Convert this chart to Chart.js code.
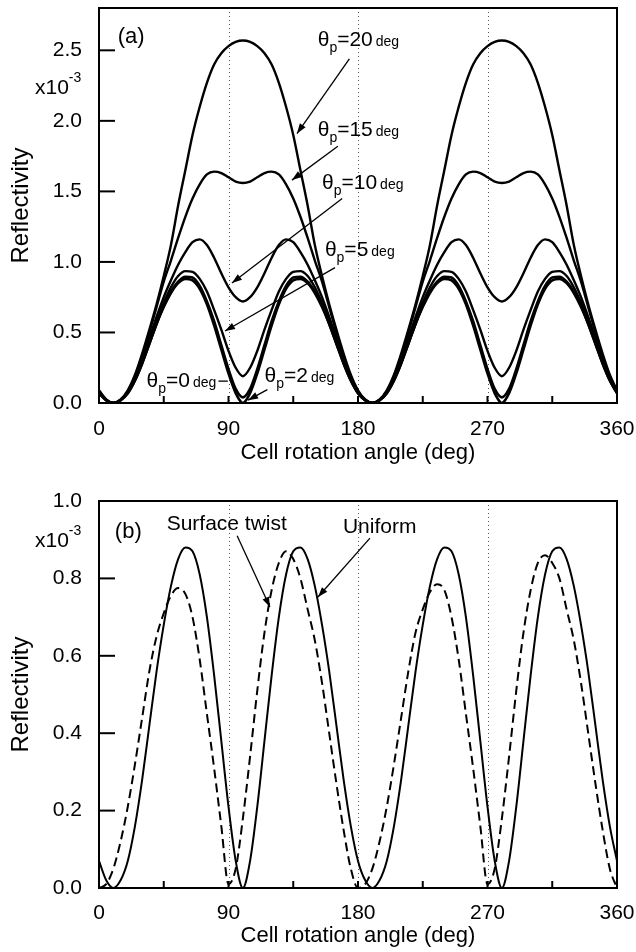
<!DOCTYPE html>
<html>
<head>
<meta charset="utf-8">
<title>Reflectivity vs cell rotation angle</title>
<script src="https://cdn.jsdelivr.net/npm/chart.js@4.4.1/dist/chart.umd.min.js"></script>
<style>
  body { margin: 0; background: #fff; }
  canvas { display: block; }
</style>
</head>
<body>
<canvas id="panelA" width="636" height="476"></canvas>
<canvas id="panelB" width="636" height="476"></canvas>
<script>
// Cell rotation angle (deg), sampled every 5 degrees
var angles = [0, 5, 10, 15, 20, 25, 30, 35, 40, 45, 50, 55, 60, 65, 70, 75, 80, 85, 90,
  95, 100, 105, 110, 115, 120, 125, 130, 135, 140, 145, 150, 155, 160, 165, 170, 175, 180,
  185, 190, 195, 200, 205, 210, 215, 220, 225, 230, 235, 240, 245, 250, 255, 260, 265, 270,
  275, 280, 285, 290, 295, 300, 305, 310, 315, 320, 325, 330, 335, 340, 345, 350, 355, 360];

// Panel (a): reflectivity (x10^-3) for each pretilt angle theta_p
var theta0 = [0.07, 0.02, 0, 0.02, 0.07, 0.16, 0.28, 0.42, 0.56, 0.68, 0.78, 0.85, 0.88, 0.87, 0.81, 0.70, 0.55, 0.38, 0.21, 0.07, 0, 0.07, 0.21, 0.38, 0.55, 0.70, 0.81, 0.87, 0.88, 0.85, 0.78, 0.68, 0.56, 0.42, 0.28, 0.16, 0.07,
  0.02, 0, 0.02, 0.07, 0.16, 0.28, 0.42, 0.56, 0.68, 0.78, 0.85, 0.88, 0.87, 0.81, 0.70, 0.55, 0.38, 0.21, 0.07, 0, 0.07, 0.21, 0.38, 0.55, 0.70, 0.81, 0.87, 0.88, 0.85, 0.78, 0.68, 0.56, 0.42, 0.28, 0.16, 0.07];
var theta2 = [0.07, 0.02, 0, 0.02, 0.07, 0.16, 0.28, 0.42, 0.56, 0.69, 0.79, 0.86, 0.895, 0.89, 0.83, 0.72, 0.58, 0.41, 0.24, 0.10, 0.04, 0.10, 0.24, 0.41, 0.58, 0.72, 0.83, 0.89, 0.895, 0.86, 0.79, 0.69, 0.56, 0.42, 0.28, 0.16, 0.07,
  0.02, 0, 0.02, 0.07, 0.16, 0.28, 0.42, 0.56, 0.69, 0.79, 0.86, 0.895, 0.89, 0.83, 0.72, 0.58, 0.41, 0.24, 0.10, 0.04, 0.10, 0.24, 0.41, 0.58, 0.72, 0.83, 0.89, 0.895, 0.86, 0.79, 0.69, 0.56, 0.42, 0.28, 0.16, 0.07];
var theta5 = [0.075, 0.02, 0, 0.02, 0.075, 0.17, 0.29, 0.44, 0.58, 0.71, 0.82, 0.90, 0.935, 0.93, 0.88, 0.79, 0.66, 0.52, 0.37, 0.25, 0.19, 0.25, 0.37, 0.52, 0.66, 0.79, 0.88, 0.93, 0.935, 0.90, 0.82, 0.71, 0.58, 0.44, 0.29, 0.17, 0.075,
  0.02, 0, 0.02, 0.075, 0.17, 0.29, 0.44, 0.58, 0.71, 0.82, 0.90, 0.935, 0.93, 0.88, 0.79, 0.66, 0.52, 0.37, 0.25, 0.19, 0.25, 0.37, 0.52, 0.66, 0.79, 0.88, 0.93, 0.935, 0.90, 0.82, 0.71, 0.58, 0.44, 0.29, 0.17, 0.075];
var theta10 = [0.08, 0.02, 0, 0.02, 0.08, 0.18, 0.31, 0.46, 0.61, 0.75, 0.87, 0.98, 1.07, 1.14, 1.16, 1.12, 1.03, 0.92, 0.82, 0.75, 0.72, 0.75, 0.82, 0.92, 1.03, 1.12, 1.16, 1.14, 1.07, 0.98, 0.87, 0.75, 0.61, 0.46, 0.31, 0.18, 0.08,
  0.02, 0, 0.02, 0.08, 0.18, 0.31, 0.46, 0.61, 0.75, 0.87, 0.98, 1.07, 1.14, 1.16, 1.12, 1.03, 0.92, 0.82, 0.75, 0.72, 0.75, 0.82, 0.92, 1.03, 1.12, 1.16, 1.14, 1.07, 0.98, 0.87, 0.75, 0.61, 0.46, 0.31, 0.18, 0.08];
var theta15 = [0.085, 0.02, 0, 0.02, 0.085, 0.19, 0.33, 0.50, 0.68, 0.86, 1.01, 1.17, 1.32, 1.45, 1.55, 1.62, 1.64, 1.63, 1.60, 1.57, 1.56, 1.57, 1.60, 1.63, 1.64, 1.62, 1.55, 1.45, 1.32, 1.17, 1.01, 0.86, 0.68, 0.50, 0.33, 0.19, 0.085,
  0.02, 0, 0.02, 0.085, 0.19, 0.33, 0.50, 0.68, 0.86, 1.01, 1.17, 1.32, 1.45, 1.55, 1.62, 1.64, 1.63, 1.60, 1.57, 1.56, 1.57, 1.60, 1.63, 1.64, 1.62, 1.55, 1.45, 1.32, 1.17, 1.01, 0.86, 0.68, 0.50, 0.33, 0.19, 0.085];
var theta20 = [0.09, 0.025, 0, 0.025, 0.09, 0.20, 0.35, 0.52, 0.70, 0.90, 1.12, 1.40, 1.65, 1.90, 2.10, 2.27, 2.40, 2.48, 2.53, 2.56, 2.57, 2.56, 2.53, 2.48, 2.40, 2.27, 2.10, 1.90, 1.65, 1.40, 1.12, 0.90, 0.70, 0.52, 0.35, 0.20, 0.09,
  0.025, 0, 0.025, 0.09, 0.20, 0.35, 0.52, 0.70, 0.90, 1.12, 1.40, 1.65, 1.90, 2.10, 2.27, 2.40, 2.48, 2.53, 2.56, 2.57, 2.56, 2.53, 2.48, 2.40, 2.27, 2.10, 1.90, 1.65, 1.40, 1.12, 0.90, 0.70, 0.52, 0.35, 0.20, 0.09];

// Panel (b): uniform cell (same as theta_p = 0) and surface twist
var uniform = theta0;
var surfaceTwist = [0, 0.01, 0.05, 0.12, 0.21, 0.32, 0.44, 0.56, 0.65, 0.71, 0.755, 0.775, 0.76, 0.70, 0.59, 0.45, 0.31, 0.16, 0.01, 0.05, 0.18, 0.34, 0.51, 0.66, 0.77, 0.84, 0.87, 0.85, 0.80, 0.72, 0.64, 0.53, 0.40, 0.27, 0.15, 0.05, 0,
  0.01, 0.05, 0.12, 0.21, 0.32, 0.44, 0.56, 0.66, 0.72, 0.765, 0.785, 0.77, 0.70, 0.59, 0.45, 0.31, 0.16, 0.01, 0.05, 0.18, 0.34, 0.51, 0.66, 0.77, 0.84, 0.86, 0.84, 0.80, 0.72, 0.64, 0.53, 0.40, 0.27, 0.15, 0.05, 0];

// axis ranges / ticks
var angleTicks = [0, 90, 180, 270, 360];
var guideAngles = [90, 180, 270];
var yMaxA = 2.8, yStepA = 0.5;
var yMaxB = 1.0, yStepB = 0.2;

var FONT = '"Liberation Sans", Arial, Helvetica, sans-serif';

function pts(arr) {
  return angles.map(function(a, i) { return {x: a, y: arr[i]}; });
}

function drawArrow(ctx, x1, y1, x2, y2, head) {
  ctx.beginPath();
  ctx.moveTo(x1, y1);
  ctx.lineTo(x2, y2);
  ctx.stroke();
  if (!head) return;
  var ang = Math.atan2(y2 - y1, x2 - x1);
  var len = 10, w = 3.5;
  ctx.beginPath();
  ctx.moveTo(x2, y2);
  ctx.lineTo(x2 - len * Math.cos(ang) + w * Math.sin(ang), y2 - len * Math.sin(ang) - w * Math.cos(ang));
  ctx.lineTo(x2 - len * Math.cos(ang) - w * Math.sin(ang), y2 - len * Math.sin(ang) + w * Math.cos(ang));
  ctx.closePath();
  ctx.fill();
}

// draws "θp=20 deg" style label
function drawTheta(ctx, x, y, val) {
  ctx.font = '21px ' + FONT;
  ctx.fillText('\u03b8', x, y);
  x += ctx.measureText('\u03b8').width;
  ctx.font = '14px ' + FONT;
  ctx.fillText('p', x, y + 6);
  x += ctx.measureText('p').width;
  ctx.font = '21px ' + FONT;
  ctx.fillText('=' + val, x, y);
  x += ctx.measureText('=' + val).width + 3;
  ctx.font = '14px ' + FONT;
  ctx.fillText('deg', x, y);
}

// frame, inward ticks, dotted guides and labels of one panel
function decor(cfg) {
  return {
    id: 'decor',
    beforeDatasetsDraw: function(chart) {
      var ctx = chart.ctx, area = chart.chartArea, xs = chart.scales.x;
      ctx.save();
      ctx.strokeStyle = '#555';
      ctx.lineWidth = 1;
      ctx.setLineDash([1, 3]);
      guideAngles.forEach(function(a) {
        var px = Math.round(xs.getPixelForValue(a)) + 0.5;
        ctx.beginPath();
        ctx.moveTo(px, area.top);
        ctx.lineTo(px, area.bottom);
        ctx.stroke();
      });
      ctx.restore();
    },
    afterDatasetsDraw: function(chart) {
      var ctx = chart.ctx, area = chart.chartArea, xs = chart.scales.x, ys = chart.scales.y;
      ctx.save();
      ctx.strokeStyle = '#000';
      ctx.fillStyle = '#000';
      ctx.lineWidth = 2;
      ctx.strokeRect(area.left, area.top, area.right - area.left, area.bottom - area.top);

      ys.ticks.forEach(function(t) {
        if (t.value <= ys.min || t.value >= ys.max) return;
        var py = ys.getPixelForValue(t.value);
        ctx.beginPath();
        ctx.moveTo(area.left, py);
        ctx.lineTo(area.left + 16, py);
        ctx.stroke();
      });
      xs.ticks.forEach(function(t) {
        if (t.value <= xs.min || t.value >= xs.max) return;
        var px = xs.getPixelForValue(t.value);
        ctx.beginPath();
        ctx.moveTo(px, area.bottom);
        ctx.lineTo(px, area.bottom - 7);
        ctx.stroke();
      });

      // x10^-3 multiplier
      ctx.textBaseline = 'alphabetic';
      ctx.textAlign = 'left';
      var ey = ys.getPixelForValue(cfg.expY);
      ctx.font = '21px ' + FONT;
      ctx.fillText('x10', area.left - 64, ey);
      var ex = area.left - 64 + ctx.measureText('x10').width;
      ctx.font = '14px ' + FONT;
      ctx.fillText('-3', ex, ey - 12);

      // panel letter and curve labels
      ctx.font = '22px ' + FONT;
      ctx.fillText(cfg.panel.text, xs.getPixelForValue(cfg.panel.x), ys.getPixelForValue(cfg.panel.y));
      cfg.notes.forEach(function(n) {
        var px = xs.getPixelForValue(n.x), py = ys.getPixelForValue(n.y);
        if (n.theta !== undefined) {
          drawTheta(ctx, px, py, n.theta);
        } else {
          ctx.font = '21px ' + FONT;
          ctx.fillText(n.text, px, py);
        }
      });
      ctx.lineWidth = 1.3;
      cfg.arrows.forEach(function(a) {
        drawArrow(ctx, xs.getPixelForValue(a[0]), ys.getPixelForValue(a[1]),
          xs.getPixelForValue(a[2]), ys.getPixelForValue(a[3]), a[4]);
      });
      ctx.restore();
    }
  };
}

function noPad(s) {
  s.paddingLeft = 0;
  s.paddingRight = 0;
  s.paddingTop = 0;
  s.paddingBottom = 0;
}

function axisOptions(yMax, yStep, xLabelPad, xTitlePad, xHeight) {
  var tickFont = {family: FONT, size: 21};
  return {
    x: {
      type: 'linear', min: 0, max: 360,
      grid: {display: false}, border: {display: false},
      ticks: {
        stepSize: 45, autoSkip: false, maxRotation: 0, padding: xLabelPad, color: '#000', font: tickFont,
        callback: function(v) { return angleTicks.indexOf(Math.round(v)) >= 0 ? String(Math.round(v)) : ''; }
      },
      title: {display: true, text: 'Cell rotation angle (deg)', color: '#000',
        font: {family: FONT, size: 22}, padding: {top: 0, bottom: xTitlePad}},
      afterFit: function(s) { s.height = xHeight; noPad(s); }
    },
    y: {
      min: 0, max: yMax,
      grid: {display: false}, border: {display: false},
      ticks: {
        stepSize: yStep, includeBounds: false, padding: 9, color: '#000', font: tickFont,
        callback: function(v) { return v.toFixed(1); }
      },
      title: {display: true, text: 'Reflectivity', color: '#000',
        font: {family: FONT, size: 24}, padding: {top: 7, bottom: 0}},
      afterFit: function(s) { s.width = 99; noPad(s); }
    }
  };
}

function line(arr, width, dash) {
  return {
    data: pts(arr), borderColor: '#000', borderWidth: width, borderDash: dash || [],
    pointRadius: 0, fill: false, cubicInterpolationMode: 'monotone'
  };
}

new Chart(document.getElementById('panelA'), {
  type: 'line',
  data: {
    datasets: [line(theta0, 2.6), line(theta2, 2.6), line(theta5, 2.4),
      line(theta10, 2.4), line(theta15, 2.4), line(theta20, 2.4)]
  },
  options: {
    responsive: false, animation: false,
    layout: {padding: {top: 8, right: 19, left: 0, bottom: 0}},
    plugins: {legend: {display: false}, tooltip: {enabled: false}},
    scales: axisOptions(yMaxA, yStepA, 6, 10, 73)
  },
  plugins: [decor({
    expY: 2.19,
    panel: {text: '(a)', x: 13, y: 2.55},
    notes: [
      {x: 152, y: 2.53, theta: '20'},
      {x: 152, y: 1.89, theta: '15'},
      {x: 155, y: 1.52, theta: '10'},
      {x: 157, y: 1.04, theta: '5'},
      {x: 33, y: 0.115, theta: '0'},
      {x: 115, y: 0.15, theta: '2'}
    ],
    arrows: [
      [174, 2.44, 137.6, 1.91, true],
      [166, 1.82, 134.1, 1.58, true],
      [169, 1.45, 92.4, 0.85, true],
      [164, 0.96, 87.6, 0.51, true],
      [83, 0.155, 89.5, 0.155, false],
      [117, 0.095, 103.6, 0.02, true]
    ]
  })]
});

new Chart(document.getElementById('panelB'), {
  type: 'line',
  data: {
    datasets: [line(uniform, 2), line(surfaceTwist, 2, [9, 5])]
  },
  options: {
    responsive: false, animation: false,
    layout: {padding: {top: 25, right: 19, left: 0, bottom: 0}},
    plugins: {legend: {display: false}, tooltip: {enabled: false}},
    scales: axisOptions(yMaxB, yStepB, 5, 3, 64)
  },
  plugins: [decor({
    expY: 0.88,
    panel: {text: '(b)', x: 11, y: 0.905},
    notes: [
      {x: 47, y: 0.925, text: 'Surface twist'},
      {x: 169.5, y: 0.917, text: 'Uniform'}
    ],
    arrows: [
      [96, 0.91, 118.8, 0.726, true],
      [188.3, 0.904, 152.2, 0.752, true]
    ]
  })]
});
</script>
</body>
</html>
